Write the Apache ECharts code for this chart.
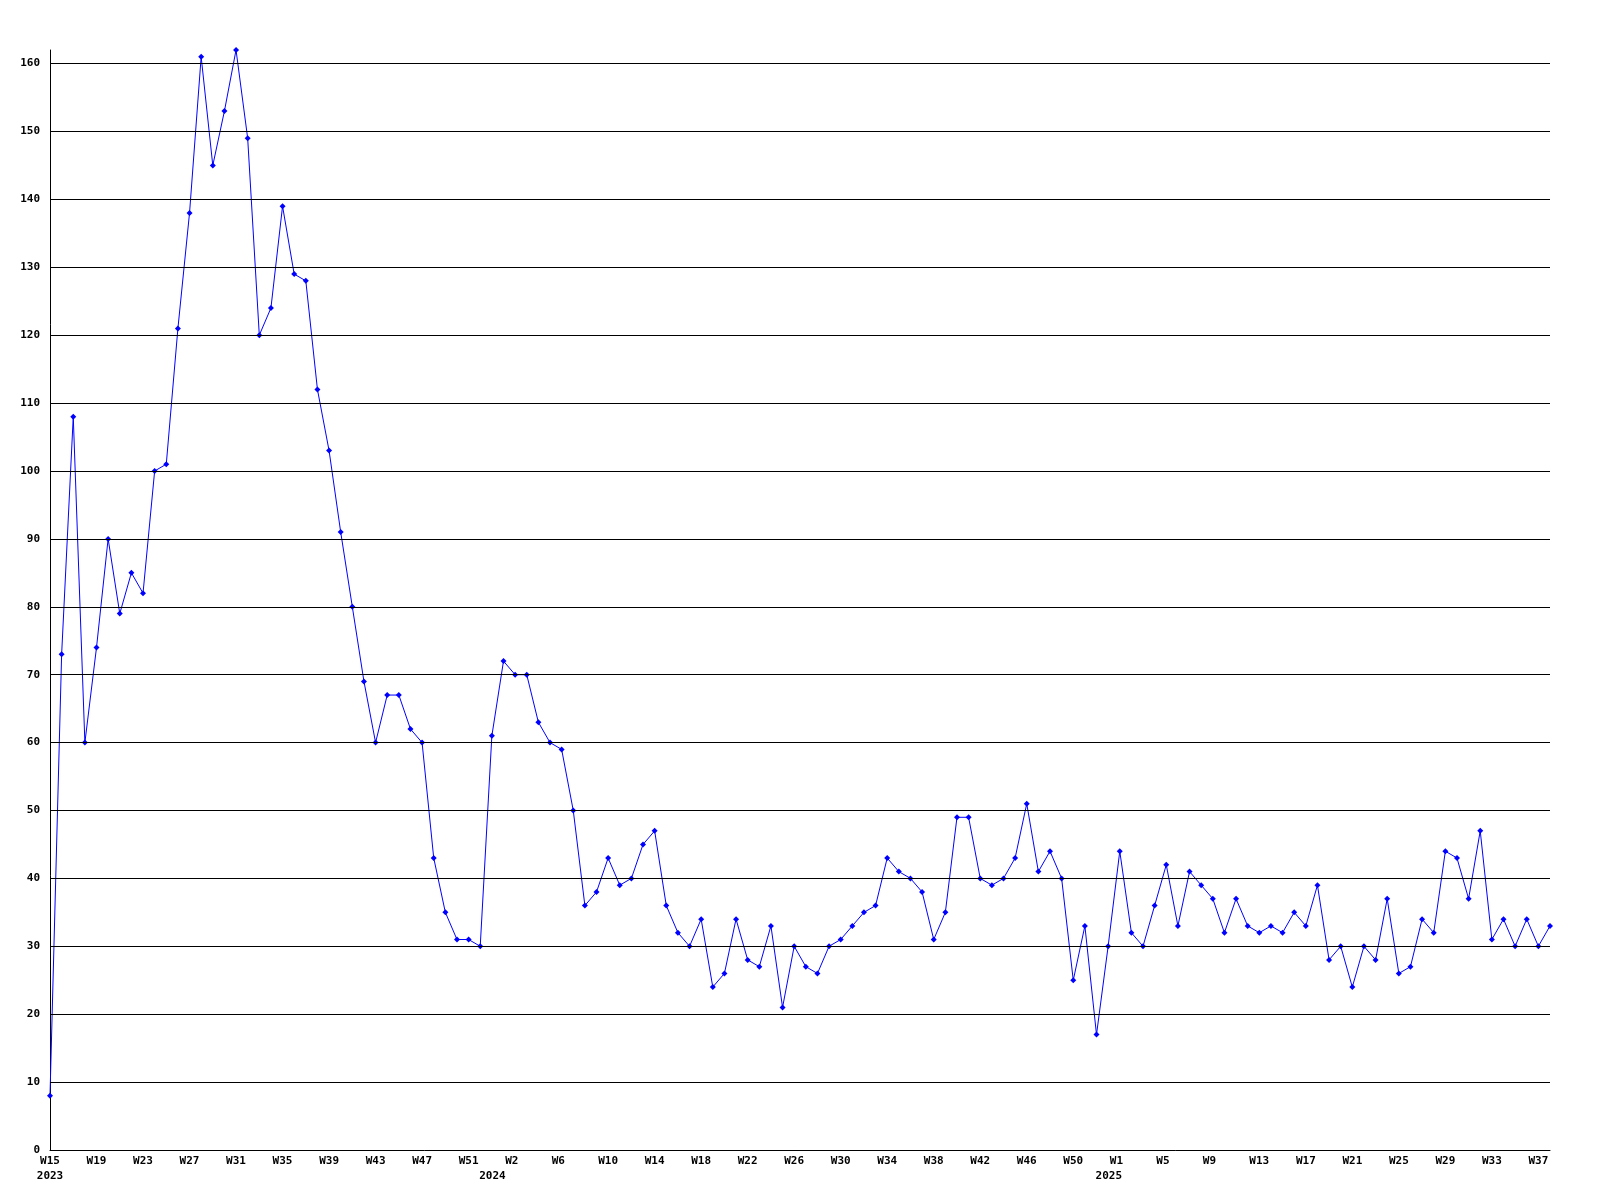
<!DOCTYPE html>
<html>
<head>
<meta charset="utf-8">
<script src="https://cdn.jsdelivr.net/npm/echarts@6/dist/echarts.min.js"></script>
<style>
html, body { margin: 0; padding: 0; background: #fff; }
#main { width: 1600px; height: 1200px; }
</style>
</head>
<body>
<div id="main"></div>
<script>
// weekly counts
var values2023 = [8, 73, 108, 60, 74, 90, 79, 85, 82, 100,
  101, 121, 138, 161, 145, 153, 162, 149, 120, 124,
  139, 129, 128, 112, 103, 91, 80, 69, 60, 67,
  67, 62, 60, 43, 35, 31, 31, 30, 61];
var values2024 = [72, 70, 70, 63, 60, 59, 50, 36, 38, 43,
  39, 40, 45, 47, 36, 32, 30, 34, 24, 26,
  34, 28, 27, 33, 21, 30, 27, 26, 30, 31,
  33, 35, 36, 43, 41, 40, 38, 31, 35, 49,
  49, 40, 39, 40, 43, 51, 41, 44, 40, 25,
  33, 17, 30];
var values2025 = [44, 32, 30, 36, 42, 33, 41, 39, 37, 32,
  37, 33, 32, 33, 32, 35, 33, 39, 28, 30,
  24, 30, 28, 37, 26, 27, 34, 32, 44, 43,
  37, 47, 31, 34, 30, 34, 30, 33];

// [year, first week, last week]
var weekSpans = [[2023, 15, 53], [2024, 1, 53], [2025, 1, 38]];
var yGrid = [10, 20, 30, 40, 50, 60, 70, 80, 90, 100, 110, 120, 130, 140, 150, 160];

var categories = [];
weekSpans.forEach(function (s) {
  for (var w = s[1]; w <= s[2]; w++) {
    categories.push(s[0] + '-W' + w);
  }
});
var values = values2023.concat(values2024, values2025);

var font = '"DejaVu Sans Mono", monospace';

var myChart = echarts.init(document.getElementById('main'));
var option = {
  animation: false,
  backgroundColor: '#fff',
  grid: { left: 50, right: 50, top: 50, bottom: 50 },
  xAxis: [{
    type: 'category',
    data: categories,
    boundaryGap: false,
    axisLine: { lineStyle: { color: '#000', width: 1 } },
    axisTick: { show: false },
    splitLine: { show: false },
    axisLabel: {
      interval: 3,
      margin: 6,
      color: '#000',
      fontFamily: font,
      fontWeight: 'bold',
      fontSize: 11,
      // pad short labels so they start at the same place as 3-char ones
      formatter: function (v) {
        var w = v.split('-')[1];
        return w.length < 3 ? w + '\u00a0' : w;
      }
    }
  }, {
    // year row under the week labels
    type: 'category',
    data: categories,
    boundaryGap: false,
    position: 'bottom',
    axisLine: { show: false },
    axisTick: { show: false },
    splitLine: { show: false },
    axisLabel: {
      margin: 21,
      color: '#000',
      fontFamily: font,
      fontWeight: 'bold',
      fontSize: 11,
      interval: function (i, v) { return i === 0 || v.split('-')[1] === 'W1'; },
      formatter: function (v, i) {
        return i === 0 ? '{a|' + v.split('-')[0] + '}' : '{b|' + v.split('-')[0] + '}';
      },
      rich: {
        a: { fontFamily: font, fontWeight: 'bold', fontSize: 11, color: '#000' },
        b: { fontFamily: font, fontWeight: 'bold', fontSize: 11, color: '#000', padding: [0, 22, 0, 0] }
      }
    }
  }],
  yAxis: {
    type: 'value',
    min: 0,
    max: 162,
    interval: 10,
    axisLine: { show: true, lineStyle: { color: '#000', width: 1 } },
    axisTick: { show: false },
    splitLine: { show: false },
    axisLabel: {
      showMaxLabel: false,
      margin: 10,
      color: '#000',
      fontFamily: font,
      fontWeight: 'bold',
      fontSize: 11
    }
  },
  series: [{
    type: 'line',
    data: values,
    xAxisIndex: 0,
    symbol: 'diamond',
    symbolSize: 6,
    showAllSymbol: true,
    lineStyle: { color: '#0000ff', width: 1 },
    itemStyle: { color: '#0000ff' },
    markLine: {
      silent: true,
      symbol: ['none', 'none'],
      label: { show: false },
      lineStyle: { color: '#000', width: 1, type: 'solid' },
      emphasis: { disabled: true },
      data: yGrid.map(function (v) { return { yAxis: v }; })
    }
  }]
};
myChart.setOption(option);
window.onresize = function () {
  myChart.resize();
};
</script>
</body>
</html>
